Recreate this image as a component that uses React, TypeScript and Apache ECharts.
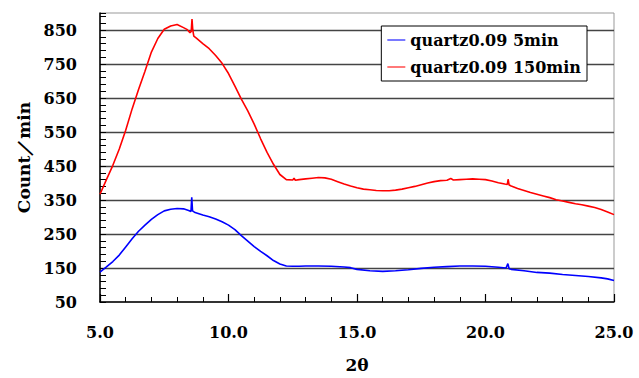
import React, { useEffect, useRef } from "react";
import * as echarts from "echarts";

const seriesNames = ["quartz0.09 5min", "quartz0.09 150min"];

const redX = [5.0, 5.25, 5.5, 5.75, 6.0, 6.25, 6.5, 6.75, 7.0, 7.25, 7.5, 7.75, 8.0, 8.25, 8.4, 8.5, 8.55, 8.58, 8.61, 8.65, 8.75, 9.0, 9.25, 9.5, 9.75, 10.0, 10.25, 10.5, 10.75, 11.0, 11.25, 11.5, 11.75, 12.0, 12.25, 12.5, 12.55, 12.6, 12.75, 13.0, 13.25, 13.5, 13.75, 14.0, 14.25, 14.5, 14.75, 15.0, 15.25, 15.5, 15.75, 16.0, 16.25, 16.5, 16.75, 17.0, 17.25, 17.5, 17.75, 18.0, 18.25, 18.5, 18.65, 18.75, 19.0, 19.25, 19.5, 19.75, 20.0, 20.25, 20.5, 20.75, 20.85, 20.88, 20.92, 21.0, 21.25, 21.5, 21.75, 22.0, 22.25, 22.5, 22.75, 23.0, 23.25, 23.5, 23.75, 24.0, 24.25, 24.5, 24.75, 25.0];
const redY = [367, 410, 452, 500, 555, 618, 675, 729, 785, 825, 852, 862, 866, 857, 851, 842, 846, 882, 850, 832, 826, 810, 795, 775, 752, 722, 685, 647, 612, 573, 530, 490, 455, 425, 410, 409, 414, 408, 410, 412, 414, 416, 415, 411, 404, 397, 391, 386, 382, 380, 378, 377, 377, 379, 382, 386, 390, 395, 400, 404, 407, 408, 413, 409, 410, 411, 412, 411, 410, 406, 401, 397, 396, 411, 394, 391, 384, 378, 372, 367, 362, 357, 351, 347, 343, 339, 336, 332, 328, 322, 315, 307];

const blueX = [5.0, 5.25, 5.5, 5.75, 6.0, 6.25, 6.5, 6.75, 7.0, 7.25, 7.5, 7.75, 8.0, 8.25, 8.45, 8.54, 8.57, 8.6, 8.7, 9.0, 9.25, 9.5, 9.75, 10.0, 10.25, 10.5, 10.75, 11.0, 11.25, 11.5, 11.75, 12.0, 12.25, 12.5, 12.75, 13.0, 13.5, 14.0, 14.5, 14.75, 15.0, 15.5, 16.0, 16.5, 17.0, 17.5, 18.0, 18.5, 19.0, 19.5, 20.0, 20.5, 20.8, 20.87, 20.92, 21.0, 21.5, 22.0, 22.5, 23.0, 23.5, 24.0, 24.5, 24.75, 25.0];
const blueY = [138, 153, 169, 188, 212, 236, 258, 276, 293, 307, 318, 323, 325, 324, 319, 316, 358, 318, 313, 306, 301, 294, 286, 276, 263, 245, 229, 213, 199, 186, 172, 162, 156, 155, 155, 156, 156, 155, 153, 151, 146, 142, 140, 142, 145, 149, 152, 154, 156, 156, 155, 152, 150, 163, 148, 146, 142, 137, 135, 131, 128, 125, 121, 118, 113];

const xMin = 5;
const xMax = 25;
const xStep = 5;
const yMin = 50;
const yMax = 900;
const yStep = 100;
const yMinorStep = 20;

const FONT = "DejaVu Serif";

export default function App() {
  const ref = useRef<HTMLDivElement>(null);
  useEffect(() => {
    if (!ref.current) return;
    const chart = echarts.init(ref.current, null, { renderer: "svg" });
    const blueData = blueX.map((x, i) => [x, blueY[i]]);
    const redData = redX.map((x, i) => [x, redY[i]]);
    chart.setOption({
      animation: false,
      backgroundColor: "#ffffff",
      textStyle: { fontFamily: FONT },
      grid: {
        left: 100,
        right: 25,
        top: 13,
        bottom: 72,
        show: true,
        borderColor: "#999999",
        borderWidth: 1,
      },
      legend: {
        orient: "vertical",
        right: 52,
        top: 26,
        backgroundColor: "#ffffff",
        borderColor: "#000000",
        borderWidth: 1,
        padding: [6, 6, 6, 6],
        itemGap: 11,
        itemWidth: 18,
        itemHeight: 1.5,
        icon: "rect",
        data: seriesNames,
        textStyle: {
          fontFamily: FONT,
          fontWeight: "bold",
          fontSize: 16,
          color: "#000000",
        },
      },
      xAxis: {
        type: "value",
        min: xMin,
        max: xMax,
        interval: xStep,
        name: "2θ",
        nameLocation: "middle",
        nameGap: 54,
        nameTextStyle: { fontFamily: FONT, fontWeight: "bold", fontSize: 17, color: "#000" },
        axisLine: { show: true, lineStyle: { color: "#000", width: 1.5 } },
        axisTick: { show: true, inside: true, length: 8, lineStyle: { color: "#000", width: 1.2 } },
        minorTick: { show: true, splitNumber: 5, length: 5, lineStyle: { color: "#000", width: 1 } },
        splitLine: { show: false },
        axisLabel: {
          margin: 22,
          fontFamily: FONT,
          fontWeight: "bold",
          fontSize: 16,
          color: "#000",
          formatter: (v: number) => v.toFixed(1),
        },
      },
      yAxis: [
        {
          type: "value",
          min: yMin,
          max: yMax,
          interval: yStep,
          name: "Count／min",
          nameLocation: "middle",
          nameGap: 67,
          nameTextStyle: { fontFamily: FONT, fontWeight: "bold", fontSize: 17, color: "#000" },
          axisLine: { show: true, lineStyle: { color: "#000", width: 1.5 } },
          axisTick: { show: false },
          splitLine: { show: true, showMaxLine: false, showMinLine: false, lineStyle: { color: "#444", width: 1.3 } },
          axisLabel: {
            margin: 23,
            showMaxLabel: false,
            fontFamily: FONT,
            fontWeight: "bold",
            fontSize: 16,
            color: "#000",
          },
        },
        {
          type: "value",
          min: yMin,
          max: yMax,
          interval: yMinorStep,
          position: "left",
          axisLine: { show: false },
          axisTick: { show: true, inside: true, length: 6, lineStyle: { color: "#000", width: 1 } },
          splitLine: { show: false },
          axisLabel: { show: false },
        },
      ],
      series: [
        {
          name: seriesNames[0],
          type: "line",
          data: blueData,
          symbol: "none",
          lineStyle: { color: "#0000ff", width: 1.6 },
          itemStyle: { color: "#4d4dff" },
        },
        {
          name: seriesNames[1],
          type: "line",
          data: redData,
          symbol: "none",
          lineStyle: { color: "#ff0000", width: 1.6 },
          itemStyle: { color: "#ff4d4d" },
        },
      ],
    });
    return () => chart.dispose();
  }, []);
  return (
    <div
      ref={ref}
      style={{ position: "fixed", left: 0, top: 0, width: 639, height: 378 }}
    />
  );
}
